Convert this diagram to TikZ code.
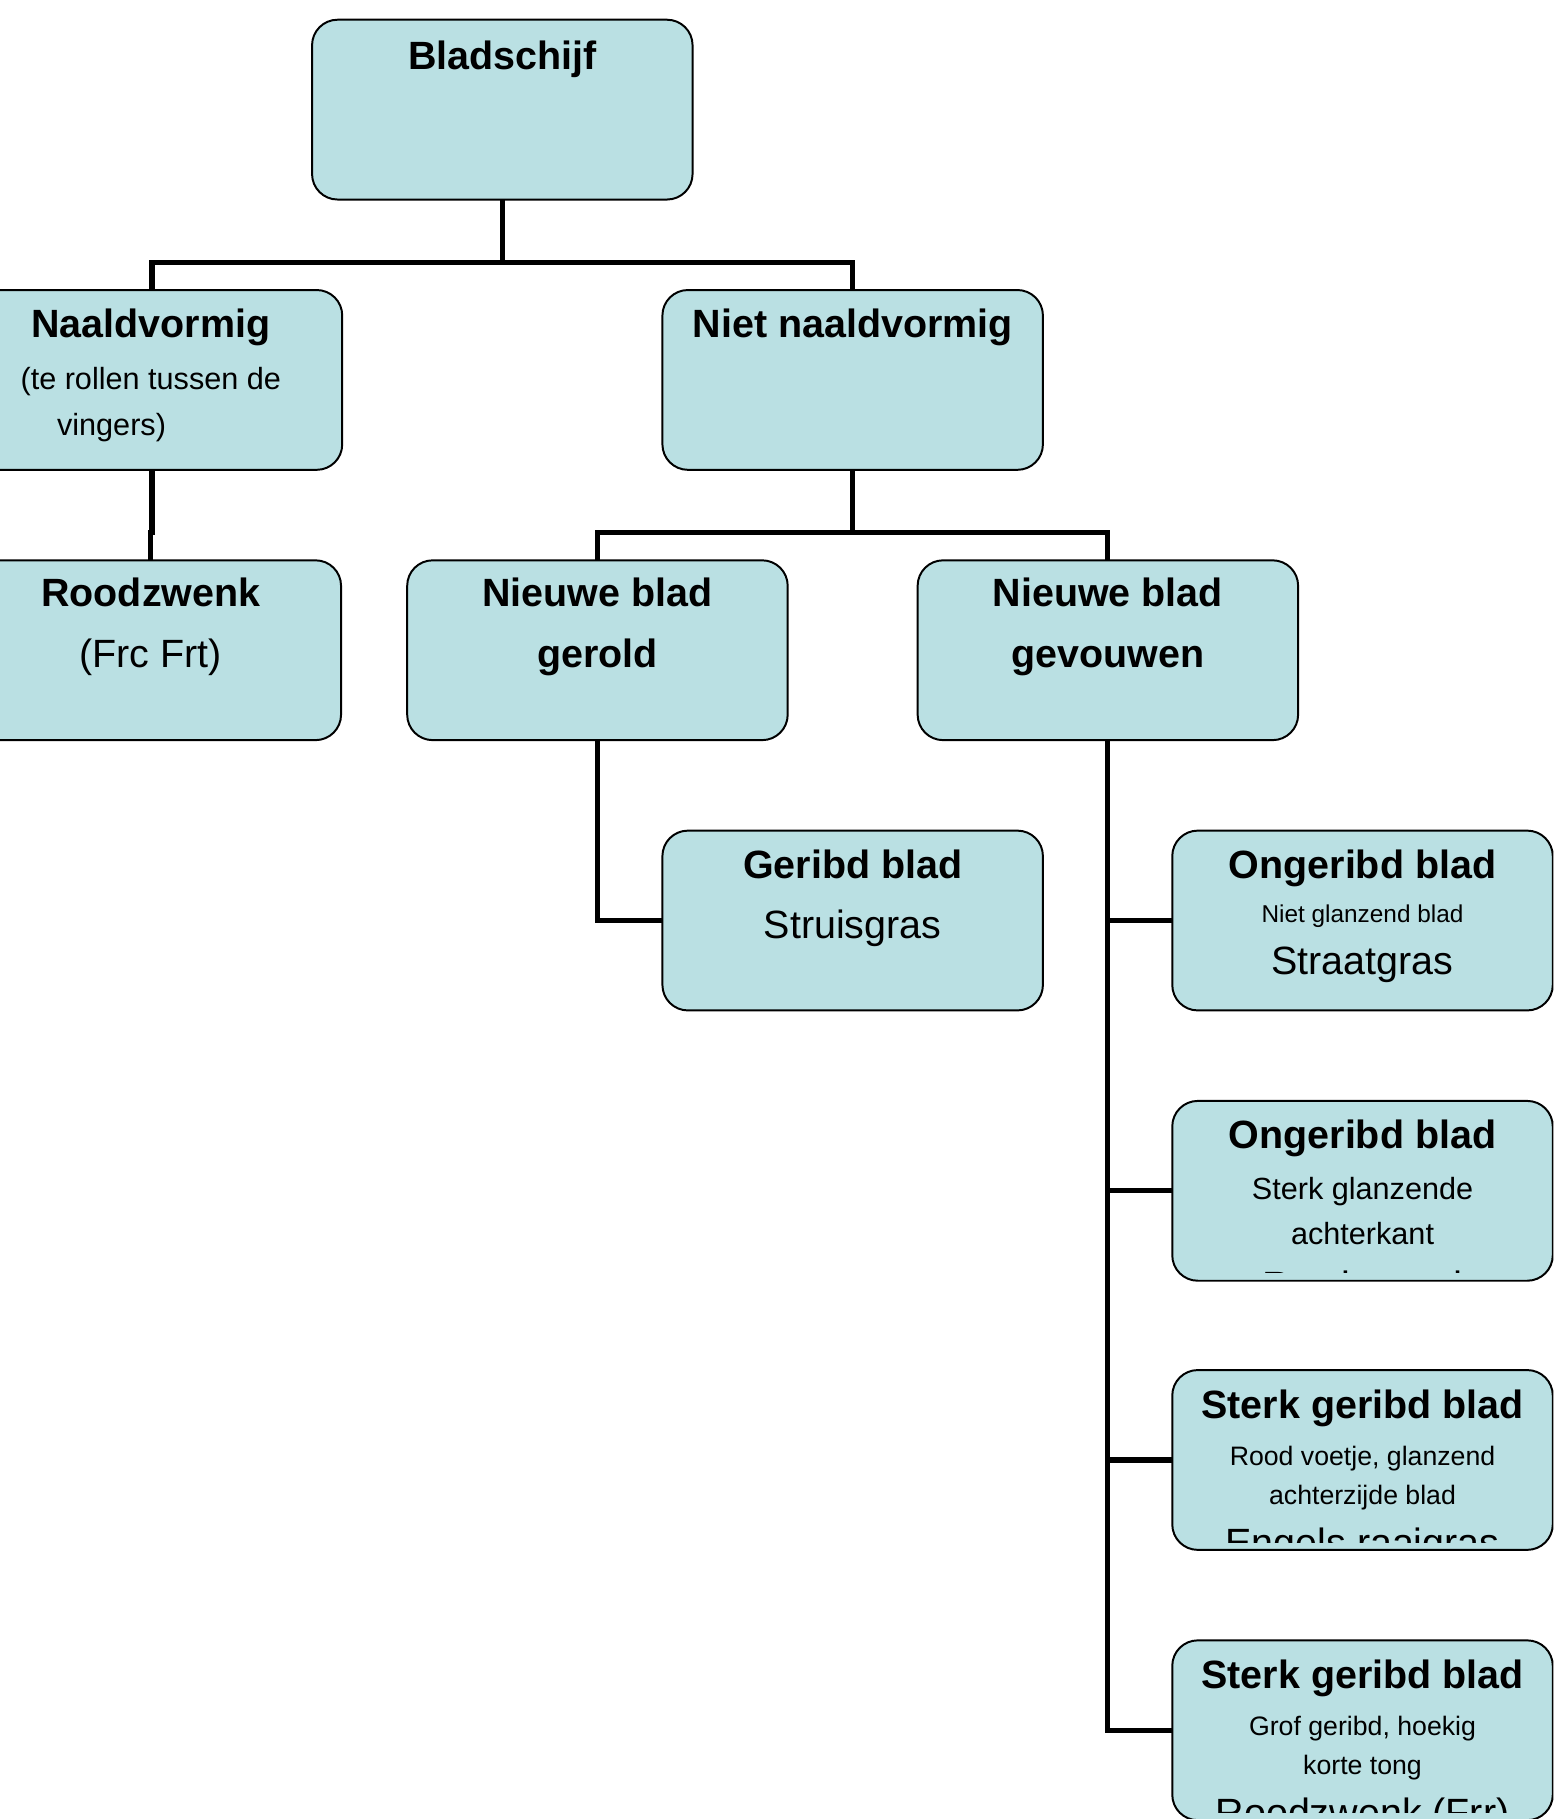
\documentclass[tikz,border=0pt]{standalone}
\usepackage{fontspec}
\setmainfont{Liberation Sans}
\definecolor{boxfill}{RGB}{186,224,227}
\tikzset{
  box/.style={draw=black, line width=1.7pt, fill=boxfill, rounded corners=22pt,
    minimum width=328pt, minimum height=155pt, inner sep=0pt, outer sep=0pt},
  conn/.style={line width=4.5pt, black, line join=miter},
  ttl/.style={anchor=base, inner sep=0pt, font=\fontsize{34}{40}\selectfont\bfseries},
  big/.style={anchor=base, inner sep=0pt, font=\fontsize{34}{40}\selectfont},
  mid/.style={anchor=base, inner sep=0pt, font=\fontsize{26.4}{30}\selectfont},
  sml/.style={anchor=base, inner sep=0pt, font=\fontsize{23}{28}\selectfont},
  tny/.style={anchor=base, inner sep=0pt, font=\fontsize{21}{25}\selectfont},
}
\begin{document}
\begin{tikzpicture}[x=1pt,y=-1pt]
\clip (0,0) rectangle (1339,1568);
\fill[white] (0,0) rectangle (1339,1568);
% boxes
\node[box] (blad) at (433,94.5) {};
\node[box] (naald) at (131,327.5) {};
\node[box] (niet) at (735,327.5) {};
\node[box] (rood) at (130,560.5) {};
\node[box] (gerold) at (515,560.5) {};
\node[box] (gev) at (955,560.5) {};
\node[box] (geribd) at (735,793.5) {};
\node[box] (r1) at (1174.5,793.5) {};
\node[box] (r2) at (1174.5,1026.5) {};
\node[box] (r3) at (1174.5,1258.5) {};
\node[box] (r4) at (1174.5,1491.5) {};
% junctions
\coordinate (j1) at (433,226);
\coordinate (j2) at (130.5,459);
\coordinate (j3) at (735,459);
% connectors
\draw[conn] (blad.south) -- (j1);
\draw[conn] (naald.north) |- (j1) -| (niet.north);
\draw[conn] (naald.south) |- (j2) -| (rood.north);
\draw[conn] (niet.south) -- (j3);
\draw[conn] (gerold.north) |- (j3) -| (gev.north);
\draw[conn] (gerold.south) |- (geribd.west);
\draw[conn] (gev.south) |- (r4.west);
\draw[conn] (gev.south) |- (r1.west);
\draw[conn] (gev.south) |- (r2.west);
\draw[conn] (gev.south) |- (r3.west);
% texts
\node[ttl] (tblad) at (433,60) {Bladschijf};
\node[ttl] (tnaald) at (130,291) {Naaldvormig};
\node[mid] (tnaald2) at (130,336) {(te rollen tussen de};
\node[mid, anchor=base west] (tnaald3) at (49,375) {vingers)};
\node[ttl] (tniet) at (735,291) {Niet naaldvormig};
\node[ttl] (trood) at (130,523) {Roodzwenk};
\node[big] (trood2) at (130,575) {(Frc Frt)};
\node[ttl] (tger1) at (515,523) {Nieuwe blad};
\node[ttl] (tger2) at (515,575) {gerold};
\node[ttl] (tgev1) at (955,523) {Nieuwe blad};
\node[ttl] (tgev2) at (955,575) {gevouwen};
\node[ttl] (tgeribd) at (735,757) {Geribd blad};
\node[big] (tgeribd2) at (735,809) {Struisgras};
\node[ttl] (tr1a) at (1174.5,757) {Ongeribd blad};
\node[tny] (tr1b) at (1174.5,795) {Niet glanzend blad};
\node[big] (tr1c) at (1174.5,840) {Straatgras};
\node[ttl] (tr2a) at (1174.5,990) {Ongeribd blad};
\node[mid] (tr2b) at (1174.5,1034) {Sterk glanzende};
\node[mid] (tr2c) at (1174.5,1073) {achterkant};
\begin{scope}
\clip (1011,949) rectangle (1338,1097);
\node[big] (tr2d) at (1174.5,1120.5) {Ruwbeemd};
\end{scope}
\node[ttl] (tr3a) at (1174.5,1222.5) {Sterk geribd blad};
\node[sml] (tr3b) at (1174.5,1263) {Rood voetje, glanzend};
\node[sml] (tr3c) at (1174.5,1297) {achterzijde blad};
\begin{scope}
\clip (1011,1181) rectangle (1338,1329.6);
\node[big] (tr3d) at (1174.5,1342) {Engels raaigras};
\end{scope}
\node[ttl] (tr4a) at (1174.5,1455.5) {Sterk geribd blad};
\node[sml] (tr4b) at (1174.5,1496) {Grof geribd, hoekig};
\node[sml] (tr4c) at (1174.5,1530) {korte tong};
\begin{scope}
\clip (1011,1414) rectangle (1338,1562);
\node[big] (tr4d) at (1174.5,1574.5) {Roodzwenk (Frr)};
\end{scope}
\end{tikzpicture}
\end{document}
